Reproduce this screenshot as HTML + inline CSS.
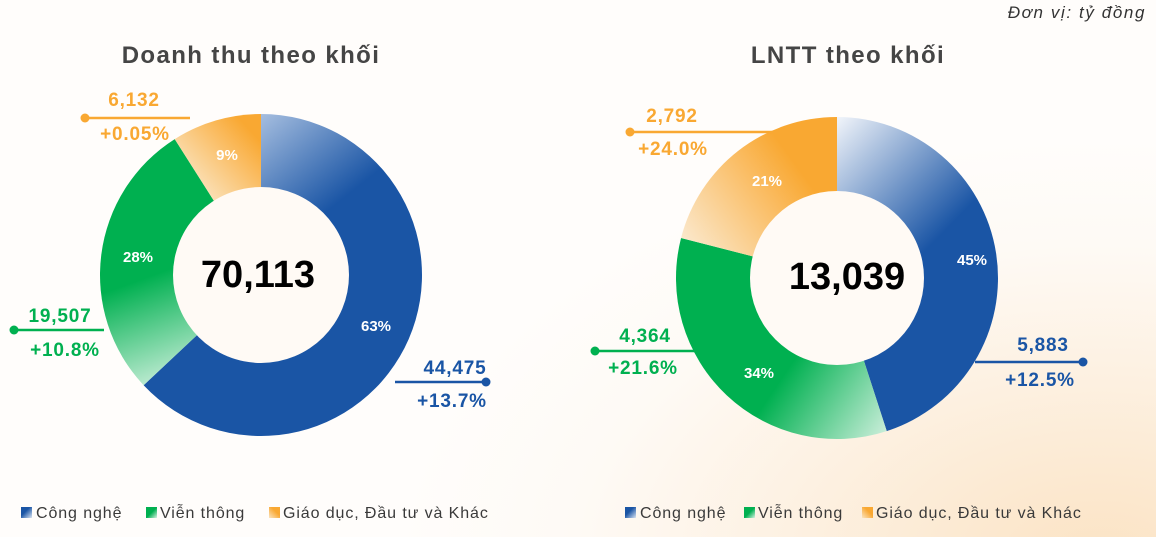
<!DOCTYPE html>
<html><head><meta charset="utf-8"><style>
html,body{margin:0;padding:0;}
body{width:1156px;height:537px;overflow:hidden;font-family:"Liberation Sans",sans-serif;
background:radial-gradient(ellipse 700px 420px at 1100px 560px,#fbe3c4 0%,#fdf1e2 45%,#fefaf5 75%,#fffdfb 100%);}
svg{position:absolute;left:0;top:0;}
</style></head><body>
<svg width="1156" height="537" viewBox="0 0 1156 537" xmlns="http://www.w3.org/2000/svg">
<defs>
<linearGradient id="b1" gradientUnits="userSpaceOnUse" x1="261" y1="112" x2="335" y2="205"><stop offset="0" stop-color="#a7bfe0"/><stop offset="1" stop-color="#1a55a5"/></linearGradient>
<linearGradient id="g1" gradientUnits="userSpaceOnUse" x1="140" y1="280" x2="180" y2="390"><stop offset="0" stop-color="#00b050"/><stop offset="1" stop-color="#d9f3e4"/></linearGradient>
<linearGradient id="o1" gradientUnits="userSpaceOnUse" x1="250" y1="130" x2="190" y2="185"><stop offset="0" stop-color="#f9a832"/><stop offset="1" stop-color="#fbe4c0"/></linearGradient>
<linearGradient id="b2" gradientUnits="userSpaceOnUse" x1="840" y1="112" x2="990" y2="260"><stop offset="0" stop-color="#f3f6fb"/><stop offset="0.75" stop-color="#1a55a5"/></linearGradient>
<linearGradient id="g2" gradientUnits="userSpaceOnUse" x1="760" y1="350" x2="900" y2="445"><stop offset="0.2" stop-color="#00b050"/><stop offset="1" stop-color="#e8f7ee"/></linearGradient>
<linearGradient id="o2" gradientUnits="userSpaceOnUse" x1="800" y1="170" x2="690" y2="250"><stop offset="0" stop-color="#f9a832"/><stop offset="1" stop-color="#fbe8cc"/></linearGradient>
<linearGradient id="lb" x1="0" y1="0" x2="1" y2="1"><stop offset="0.4" stop-color="#1a55a5"/><stop offset="1" stop-color="#dce6f3"/></linearGradient>
<linearGradient id="lg" x1="0" y1="0" x2="1" y2="1"><stop offset="0.5" stop-color="#00b050"/><stop offset="1" stop-color="#d9f3e4"/></linearGradient>
<linearGradient id="lo" x1="1" y1="0" x2="0" y2="1"><stop offset="0.4" stop-color="#f9a832"/><stop offset="1" stop-color="#fbe4c0"/></linearGradient>
</defs>
<g id="c1"></g><g id="c2"></g>
<circle cx="261" cy="275" r="88" fill="#fffaf5"/>
<circle cx="837" cy="278" r="87" fill="#fffaf5"/>
<g font-weight="bold" font-family="Liberation Sans,sans-serif">
<text x="251" y="63" text-anchor="middle" font-size="24" letter-spacing="1.4" fill="#454545">Doanh thu theo khối</text>
<text x="848" y="63" text-anchor="middle" font-size="24" letter-spacing="1.4" fill="#454545">LNTT theo khối</text>
<text x="258" y="287" text-anchor="middle" font-size="38" fill="#000">70,113</text>
<text x="847" y="289" text-anchor="middle" font-size="38" fill="#000">13,039</text>
<g fill="#fff" font-size="15" text-anchor="middle">
<text x="376" y="331">63%</text><text x="138" y="262">28%</text><text x="227" y="160">9%</text>
<text x="972" y="265">45%</text><text x="759" y="378">34%</text><text x="767" y="186">21%</text>
</g>
<g font-size="19" letter-spacing="0.8">
<text x="134" y="106" text-anchor="middle" fill="#f9a832">6,132</text>
<text x="135" y="140" text-anchor="middle" fill="#f9a832">+0.05%</text>
<text x="60" y="322" text-anchor="middle" fill="#00b050">19,507</text>
<text x="65" y="356" text-anchor="middle" fill="#00b050">+10.8%</text>
<text x="455" y="374" text-anchor="middle" fill="#1a55a5">44,475</text>
<text x="452" y="407" text-anchor="middle" fill="#1a55a5">+13.7%</text>
<text x="672" y="122" text-anchor="middle" fill="#f9a832">2,792</text>
<text x="673" y="155" text-anchor="middle" fill="#f9a832">+24.0%</text>
<text x="645" y="342" text-anchor="middle" fill="#00b050">4,364</text>
<text x="643" y="374" text-anchor="middle" fill="#00b050">+21.6%</text>
<text x="1043" y="351" text-anchor="middle" fill="#1a55a5">5,883</text>
<text x="1040" y="386" text-anchor="middle" fill="#1a55a5">+12.5%</text>
</g>
</g>
<g stroke-width="2.5">
<line x1="85" y1="118" x2="190" y2="118" stroke="#f9a832"/><circle cx="85" cy="118" r="4.5" fill="#f9a832"/>
<line x1="14" y1="330" x2="104" y2="330" stroke="#00b050"/><circle cx="14" cy="330" r="4.5" fill="#00b050"/>
<line x1="395" y1="382" x2="486" y2="382" stroke="#1a55a5"/><circle cx="486" cy="382" r="4.5" fill="#1a55a5"/>
<line x1="630" y1="132" x2="775" y2="132" stroke="#f9a832"/><circle cx="630" cy="132" r="4.5" fill="#f9a832"/>
<line x1="595" y1="351" x2="697" y2="351" stroke="#00b050"/><circle cx="595" cy="351" r="4.5" fill="#00b050"/>
<line x1="975" y1="362" x2="1083" y2="362" stroke="#1a55a5"/><circle cx="1083" cy="362" r="4.5" fill="#1a55a5"/>
</g>
<text x="1146" y="18" text-anchor="end" font-size="17" letter-spacing="1.6" font-style="italic" fill="#333">Đơn vị: tỷ đồng</text>
<g font-size="16" letter-spacing="0.9" fill="#3a3a3a">
<rect x="21" y="507" width="11" height="11" fill="url(#lb)"/><text x="36" y="518">Công nghệ</text>
<rect x="146" y="507" width="11" height="11" fill="url(#lg)"/><text x="160" y="518">Viễn thông</text>
<rect x="269" y="507" width="11" height="11" fill="url(#lo)"/><text x="283" y="518">Giáo dục, Đầu tư và Khác</text>
<rect x="625" y="507" width="11" height="11" fill="url(#lb)"/><text x="640" y="518">Công nghệ</text>
<rect x="744" y="507" width="11" height="11" fill="url(#lg)"/><text x="758" y="518">Viễn thông</text>
<rect x="862" y="507" width="11" height="11" fill="url(#lo)"/><text x="876" y="518">Giáo dục, Đầu tư và Khác</text>
</g>
</svg>
<script>
function arc(cx,cy,r,a0,a1){
 var t0=(a0-90)*Math.PI/180,t1=(a1-90)*Math.PI/180;
 var x0=cx+r*Math.cos(t0),y0=cy+r*Math.sin(t0),x1=cx+r*Math.cos(t1),y1=cy+r*Math.sin(t1);
 return 'M'+cx+','+cy+' L'+x0+','+y0+' A'+r+','+r+' 0 '+((a1-a0)>180?1:0)+' 1 '+x1+','+y1+' Z';
}
function draw(id,cx,cy,r,segs){
 var g=document.getElementById(id),a=0,h='';
 segs.forEach(function(s){h+='<path d="'+arc(cx,cy,r,a,a+s[0])+'" fill="url(#'+s[1]+')"/>';a+=s[0];});
 g.innerHTML=h;
}
draw('c1',261,275,161,[[226.8,'b1'],[100.8,'g1'],[32.4,'o1']]);
draw('c2',837,278,161,[[162,'b2'],[122.4,'g2'],[75.6,'o2']]);
</script>
</body></html>
